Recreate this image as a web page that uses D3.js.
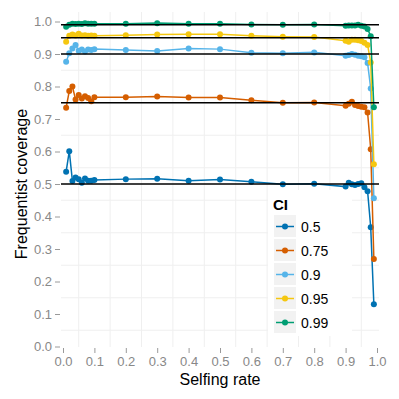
<!DOCTYPE html>
<html>
<head>
<meta charset="utf-8">
<script src="https://cdn.jsdelivr.net/npm/d3@7"></script>
<style>
  body{margin:0;background:#fff;}
  svg{font-family:"Liberation Sans",Arial,sans-serif;display:block;}
  .axis text{fill:#888;font-size:13px;}
  .axis line{stroke:#9a9a9a;}
  .axis .domain{display:none;}
</style>
</head>
<body>
<div id="chart"></div>
<script>
// selfing rates sampled in the simulation
var selfing=[0.01,0.02,0.03,0.04,0.05,0.06,0.07,0.08,0.09,0.1,
  0.2,0.3,0.4,0.5,0.6,0.7,0.8,
  0.9,0.91,0.92,0.93,0.94,0.95,0.96,0.97,0.98,0.99];
var ciLevels=["0.5","0.75","0.9","0.95","0.99"];
var ciColors=["#0072B2","#D55E00","#56B4E9","#F5C710","#009E73"];
var cov50=[0.538,0.601,0.509,0.520,0.515,0.504,0.517,0.510,0.510,0.512,
  0.515,0.516,0.510,0.514,0.507,0.499,0.501,
  0.492,0.504,0.499,0.497,0.500,0.502,0.490,0.478,0.367,0.130];
var cov75=[0.735,0.786,0.800,0.760,0.774,0.763,0.770,0.765,0.755,0.767,
  0.767,0.769,0.766,0.766,0.758,0.750,0.751,
  0.741,0.747,0.753,0.743,0.740,0.738,0.736,0.720,0.607,0.269];
var cov90=[0.876,0.902,0.917,0.928,0.910,0.914,0.908,0.914,0.912,0.915,
  0.912,0.909,0.917,0.915,0.904,0.902,0.905,
  0.895,0.897,0.900,0.898,0.895,0.893,0.890,0.872,0.794,0.456];
var cov95=[0.938,0.956,0.960,0.957,0.962,0.957,0.958,0.956,0.957,0.956,
  0.958,0.960,0.961,0.961,0.956,0.953,0.952,
  0.941,0.938,0.944,0.944,0.942,0.940,0.935,0.928,0.874,0.561];
var cov99=[0.984,0.990,0.993,0.992,0.993,0.992,0.995,0.993,0.993,0.993,
  0.993,0.995,0.993,0.993,0.991,0.990,0.991,
  0.987,0.988,0.988,0.988,0.990,0.987,0.985,0.977,0.955,0.736];
var ticks=[0,0.1,0.2,0.3,0.4,0.5,0.6,0.7,0.8,0.9,1.0];
var minorTicks=[0.05,0.15,0.25,0.35,0.45,0.55,0.65,0.75,0.85,0.95];

var series=[cov50,cov75,cov90,cov95,cov99].map(function(v,i){
  return {ci:ciLevels[i],color:ciColors[i],pts:v.map(function(c,j){return {s:selfing[j],c:c};})};
});

var W=399,H=399;
var svg=d3.select("#chart").append("svg").attr("width",W).attr("height",H);
var x=d3.scaleLinear().domain([0,1]).range([63,377]);
var y=d3.scaleLinear().domain([0,1]).range([346.5,21.5]);
var pL=61,pR=379,pT=12,pB=347;

// minor grid
var grid=svg.append("g").attr("stroke","#efefef").attr("stroke-width",1);
grid.selectAll("line.v").data(minorTicks).enter().append("line")
  .attr("x1",function(d){return x(d);}).attr("x2",function(d){return x(d);})
  .attr("y1",pT).attr("y2",pB);
grid.selectAll("line.h").data(minorTicks).enter().append("line")
  .attr("y1",function(d){return y(d);}).attr("y2",function(d){return y(d);})
  .attr("x1",pL).attr("x2",pR);

// axes
svg.append("g").attr("class","axis").attr("transform","translate(60,0)")
  .call(d3.axisLeft(y).tickValues(ticks).tickSize(5).tickPadding(3).tickFormat(d3.format(".1f")));
svg.append("g").attr("class","axis").attr("transform","translate(0,348)")
  .call(d3.axisBottom(x).tickValues(ticks).tickSize(5).tickPadding(4).tickFormat(d3.format(".1f")));

svg.append("text").attr("transform","translate(27,184) rotate(-90)").attr("text-anchor","middle")
  .attr("font-size",16).attr("fill","#000").text("Frequentist coverage");
svg.append("text").attr("x",220).attr("y",385).attr("text-anchor","middle")
  .attr("font-size",16).attr("fill","#000").text("Selfing rate");

// data
var line=d3.line().x(function(d){return x(d.s);}).y(function(d){return y(d.c);});
var sg=svg.selectAll("g.series").data(series).enter().append("g").attr("class","series");
sg.append("path").attr("fill","none").attr("stroke",function(d){return d.color;})
  .attr("stroke-width",1.5).attr("d",function(d){return line(d.pts);});
sg.selectAll("circle").data(function(d){return d.pts.map(function(p){return {s:p.s,c:p.c,color:d.color};});})
  .enter().append("circle").attr("cx",function(d){return x(d.s);}).attr("cy",function(d){return y(d.c);})
  .attr("r",3).attr("fill",function(d){return d.color;});

// nominal coverage reference lines
svg.selectAll("line.ref").data(ciLevels).enter().append("line")
  .attr("x1",pL).attr("x2",pR)
  .attr("y1",function(d){return y(+d);}).attr("y2",function(d){return y(+d);})
  .attr("stroke","#000").attr("stroke-width",1.5);

// legend
var lg=svg.append("g");
lg.append("rect").attr("x",268).attr("y",190).attr("width",84).attr("height",146).attr("fill","#fff");
lg.append("text").attr("x",273).attr("y",210).attr("font-size",15).attr("font-weight","bold").text("CI");
var items=lg.selectAll("g.item").data(series).enter().append("g")
  .attr("transform",function(d,i){return "translate(274,"+(215+i*24)+")";});
items.append("rect").attr("width",22).attr("height",22).attr("fill","#f2f2f2");
items.append("line").attr("x1",2).attr("x2",20).attr("y1",11.5).attr("y2",11.5)
  .attr("stroke",function(d){return d.color;}).attr("stroke-width",1.5);
items.append("circle").attr("cx",11).attr("cy",11.5).attr("r",3).attr("fill",function(d){return d.color;});
items.append("text").attr("x",27).attr("y",16.5).attr("font-size",14).attr("fill","#000").text(function(d){return d.ci;});
</script>
</body>
</html>
